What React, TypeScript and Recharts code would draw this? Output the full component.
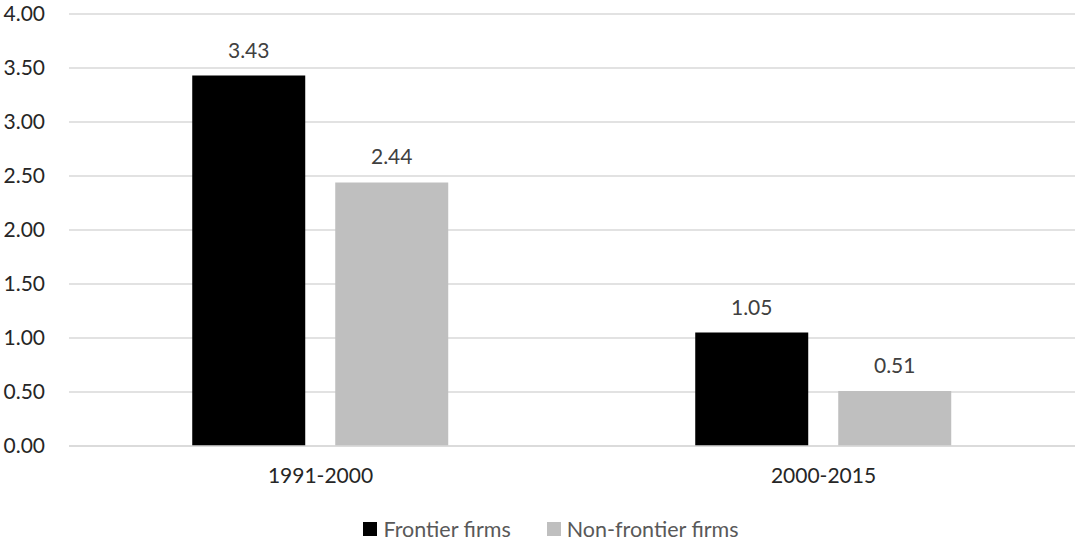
import React from 'react';
import { BarChart, Bar, XAxis, YAxis, CartesianGrid, Legend, LabelList } from 'recharts';

// Periods shown on the x axis
const periods = ['1991-2000', '2000-2015'];
// Average growth rate per period
const frontierValues = [3.43, 1.05];
const nonFrontierValues = [2.44, 0.51];
// Y axis ticks
const yTicks = [0, 0.5, 1, 1.5, 2, 2.5, 3, 3.5, 4];

const seriesNames = { frontier: 'Frontier firms', nonFrontier: 'Non-frontier firms' };
const seriesColors = { frontier: '#000000', nonFrontier: '#bfbfbf' };

const data = periods.map((period, i) => ({
  period,
  frontier: frontierValues[i],
  nonFrontier: nonFrontierValues[i],
}));

const FONT = 'Lato, "Open Sans", sans-serif';

const fmt = (v: number) => Number(v).toFixed(2);

function LegendContent() {
  const items = [
    { key: 'frontier', label: seriesNames.frontier, color: seriesColors.frontier },
    { key: 'nonFrontier', label: seriesNames.nonFrontier, color: seriesColors.nonFrontier },
  ];
  return (
    <div
      style={{
        height: 26,
        display: 'flex',
        justifyContent: 'center',
        alignItems: 'center',
        fontFamily: FONT,
        fontSize: 21.5,
        color: '#595959',
        paddingLeft: 27,
      }}
    >
      {items.map((it, i) => (
        <div key={it.key} style={{ display: 'flex', alignItems: 'center', marginLeft: i === 0 ? 0 : 36 }}>
          <span style={{ display: 'inline-block', width: 14, height: 14, background: it.color, marginRight: 6 }} />
          <span>{it.label}</span>
        </div>
      ))}
    </div>
  );
}

export default function App() {
  return (
    <div style={{ position: 'absolute', left: 0, top: 0, background: '#fff' }}>
      <BarChart
        width={1075}
        height={542}
        data={data}
        margin={{ top: 14, right: 0, left: 0, bottom: 0 }}
        barCategoryGap="24.5%"
        barGap={30}
      >
        <CartesianGrid vertical={false} stroke="#d9d9d9" strokeWidth={1.5} />
        <XAxis
          dataKey="period"
          height={70}
          axisLine={{ stroke: '#d9d9d9', strokeWidth: 1.5 }}
          tickLine={false}
          tickMargin={16}
          tick={{ fill: '#262626', fontSize: 21, fontFamily: FONT }}
        />
        <YAxis
          width={69}
          domain={[0, 4]}
          ticks={yTicks}
          tickFormatter={fmt}
          axisLine={false}
          tickLine={false}
          tickMargin={18}
          tick={{ fill: '#262626', fontSize: 21, fontFamily: FONT }}
        />
        <Legend verticalAlign="bottom" content={() => <LegendContent />} />
        <Bar dataKey="frontier" name={seriesNames.frontier} fill={seriesColors.frontier} isAnimationActive={false}>
          <LabelList dataKey="frontier" position="top" offset={18} formatter={fmt} fill="#404040" fontSize={21} fontFamily={FONT} />
        </Bar>
        <Bar dataKey="nonFrontier" name={seriesNames.nonFrontier} fill={seriesColors.nonFrontier} isAnimationActive={false}>
          <LabelList dataKey="nonFrontier" position="top" offset={18} formatter={fmt} fill="#404040" fontSize={21} fontFamily={FONT} />
        </Bar>
      </BarChart>
    </div>
  );
}
